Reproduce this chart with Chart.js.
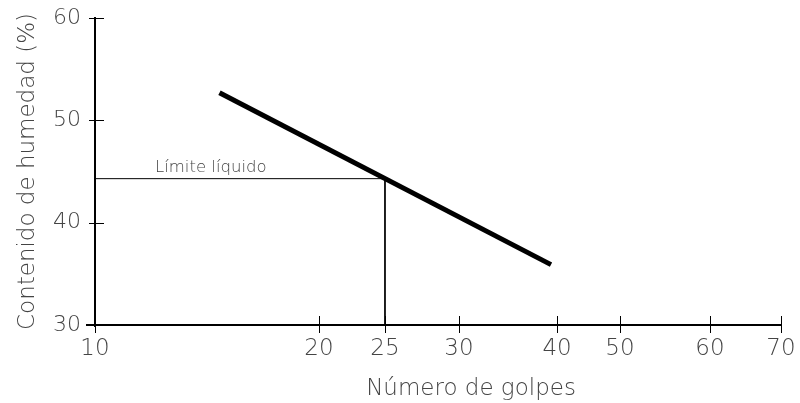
<!DOCTYPE html>
<html>
<head>
<meta charset="utf-8">
<script src="https://cdn.jsdelivr.net/npm/chart.js@4"></script>
<style>
  html, body { margin: 0; padding: 0; background: #fff; }
  #wrap { width: 800px; height: 403px; }
</style>
</head>
<body>
<div id="wrap"><canvas id="chart"></canvas></div>
<script>
// datos
const golpes = [14.7, 39.3];
const humedad = [52.7, 35.9];
const golpesLL = 25;
const limiteLiquido = 44.3;
const xTicks = [10, 20, 25, 30, 40, 50, 60, 70];
const yTicks = [30, 40, 50, 60];

const FONT = "'DejaVu Sans', sans-serif";
const GREY = "#444";

// escala semilogaritmica dibujada a mano: cada marca tiene su propia posicion
class PiecewiseScale extends Chart.LinearScale {
  buildTicks() {
    return this.options.stops.map((s) => ({ value: s[0] }));
  }
  _decimal(value) {
    const stops = this.options.stops;
    for (let i = 0; i < stops.length - 1; i++) {
      const [v0, d0] = stops[i];
      const [v1, d1] = stops[i + 1];
      if (value <= v1 || i === stops.length - 2) {
        const t = Math.log(value / v0) / Math.log(v1 / v0);
        return d0 + t * (d1 - d0);
      }
    }
    return 0;
  }
  getPixelForValue(value) {
    return value == null ? NaN : this.getPixelForDecimal(this._decimal(value));
  }
  getPixelForTick(index) {
    const t = this.ticks[index];
    return t ? this.getPixelForValue(t.value) : NaN;
  }
}
PiecewiseScale.id = "piecewise";
PiecewiseScale.defaults = {};
Chart.register(PiecewiseScale);

const stopPos = [0, 0.3265, 0.4227, 0.5306, 0.6735, 0.7653, 0.8965, 1];

const decor = {
  id: "decor",
  afterDraw(chart) {
    const { ctx, scales: { x, y } } = chart;
    ctx.save();
    ctx.strokeStyle = "#000";
    ctx.lineWidth = 1;
    // marcas que cruzan los ejes
    xTicks.forEach((v) => {
      const px = Math.round(x.getPixelForValue(v)) + 0.5;
      ctx.beginPath();
      ctx.moveTo(px, y.bottom - 9);
      ctx.lineTo(px, y.bottom + 8);
      ctx.stroke();
    });
    yTicks.forEach((v) => {
      const py = Math.round(y.getPixelForValue(v)) + 0.5;
      ctx.beginPath();
      ctx.moveTo(x.left - 6, py);
      ctx.lineTo(x.left + 9, py);
      ctx.stroke();
    });
    // ejes
    ctx.lineWidth = 2;
    ctx.beginPath();
    ctx.moveTo(x.left, y.top - 1);
    ctx.lineTo(x.left, y.bottom + 2);
    ctx.moveTo(x.left - 9, y.bottom);
    ctx.lineTo(x.right, y.bottom);
    ctx.stroke();
    // textos
    ctx.fillStyle = GREY;
    ctx.font = "200 16.5px " + FONT;
    ctx.textAlign = "left";
    ctx.textBaseline = "alphabetic";
    ctx.fillText("Límite líquido", x.left + 60, y.getPixelForValue(limiteLiquido) - 7);
    ctx.font = "200 23px " + FONT;
    ctx.textAlign = "center";
    ctx.fillText("Número de golpes", 471, 395);
    ctx.restore();
  },
};

new Chart(document.getElementById("chart"), {
  type: "scatter",
  data: {
    datasets: [
      {
        data: golpes.map((g, i) => ({ x: g, y: humedad[i] })),
        showLine: true,
        borderColor: "#000",
        borderWidth: 5,
        pointRadius: 0,
      },
      {
        data: [
          { x: xTicks[0], y: limiteLiquido },
          { x: golpesLL, y: limiteLiquido },
          { x: golpesLL, y: yTicks[0] },
        ],
        showLine: true,
        borderColor: "#000",
        borderWidth: 1,
        pointRadius: 0,
      },
    ],
  },
  plugins: [decor],
  options: {
    responsive: true,
    maintainAspectRatio: false,
    animation: false,
    layout: { padding: { top: 18, right: 19, left: 0, bottom: 0 } },
    plugins: { legend: { display: false }, tooltip: { enabled: false } },
    scales: {
      x: {
        type: "piecewise",
        min: 10,
        max: 70,
        stops: xTicks.map((v, i) => [v, stopPos[i]]),
        border: { display: false },
        grid: { display: false, drawTicks: false },
        ticks: {
          color: GREY,
          font: { family: FONT, size: 23, weight: 200 },
          padding: 10,
          maxRotation: 0,
          autoSkip: false,
        },
        afterFit: (s) => {
          s.height = 78;
          s.paddingLeft = 0;
          s.paddingRight = 0;
        },
      },
      y: {
        min: 30,
        max: 60,
        afterBuildTicks: (s) => { s.ticks = yTicks.map((v) => ({ value: v })); },
        border: { display: false },
        grid: { display: false, drawTicks: false },
        ticks: {
          color: GREY,
          font: { family: FONT, size: 22, weight: 200 },
          padding: 14,
        },
        title: {
          display: true,
          text: "Contenido de humedad (%)",
          color: GREY,
          font: { family: FONT, size: 23, weight: 200 },
          padding: { top: 14, bottom: 0 },
        },
        afterFit: (s) => {
          s.width = 95;
          s.paddingTop = 0;
          s.paddingBottom = 0;
        },
      },
    },
  },
});
</script>
</body>
</html>
